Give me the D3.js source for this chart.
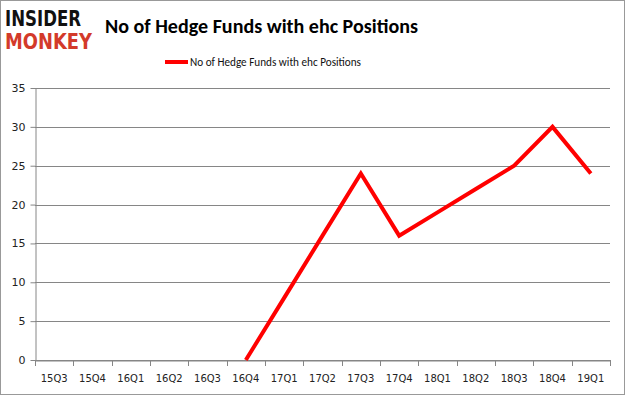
<!DOCTYPE html>
<html><head><meta charset="utf-8">
<script src="https://cdn.jsdelivr.net/npm/d3@7"></script>
<style>body{margin:0;background:#fff}svg{display:block}</style>
</head><body>
<svg id="c" width="625" height="395"></svg>
<script>
const categories = ["15Q3","15Q4","16Q1","16Q2","16Q3","16Q4","17Q1","17Q2","17Q3","17Q4","18Q1","18Q2","18Q3","18Q4","19Q1"];
const values = [null,null,null,null,null,0,8,16,24,16,19,22,25,30,24];
const yTicks = [0,5,10,15,20,25,30,35];
const seriesName = "No of Hedge Funds with ehc Positions";

const svg = d3.select("#c");
const W = 625, H = 395;
const m = {l:35, r:15, t:88, b:35};
svg.append("rect").attr("x",0.5).attr("y",0.5).attr("width",W-1).attr("height",H-1)
  .attr("fill","#fff").attr("stroke","#999");

const x = d3.scaleBand().domain(categories).range([m.l, W-m.r]);
const y = d3.scaleLinear().domain([0,35]).range([H-m.b, m.t]);

// grid
svg.append("g").selectAll("line").data(yTicks).join("line")
  .attr("x1",m.l).attr("x2",W-m.r)
  .attr("y1",d=>Math.round(y(d))+0.5).attr("y2",d=>Math.round(y(d))+0.5)
  .attr("stroke","#868686").attr("stroke-width",1);

// y axis
const ya = svg.append("g").attr("transform",`translate(${m.l+0.5},0)`)
  .call(d3.axisLeft(y).tickValues(yTicks).tickSize(5).tickPadding(5).tickSizeOuter(0));
ya.select(".domain").attr("stroke","#868686");
ya.selectAll(".tick line").attr("stroke","#868686");
ya.selectAll("text").attr("font-family","Verdana, 'DejaVu Sans', sans-serif").attr("font-size","11px").attr("fill","#222");

// x axis
const xa = svg.append("g").attr("transform",`translate(0,${Math.round(y(0))+0.5})`)
  .call(d3.axisBottom(x).tickSize(0).tickPadding(14).tickSizeOuter(0));
xa.select(".domain").attr("stroke","#868686");
xa.selectAll("text").attr("font-family","Verdana, 'DejaVu Sans', sans-serif").attr("font-size","10px").attr("fill","#222");
// boundary tick marks
const bounds = categories.map(c=>x(c)).concat([W-m.r]);
svg.append("g").selectAll("line").data(bounds).join("line")
  .attr("x1",d=>Math.round(d)+0.5).attr("x2",d=>Math.round(d)+0.5)
  .attr("y1",Math.round(y(0))).attr("y2",Math.round(y(0))+6)
  .attr("stroke","#868686");

// line
const line = d3.line().defined(d=>d.v!==null)
  .x(d=>x(d.c)+x.bandwidth()/2).y(d=>y(d.v));
svg.append("path").datum(categories.map((c,i)=>({c,v:values[i]})))
  .attr("d",line).attr("fill","none").attr("stroke","#ff0000").attr("stroke-width",4)
  .attr("stroke-linejoin","miter");

// title
svg.append("text").attr("x",105).attr("y",33).text("No of Hedge Funds with ehc Positions")
  .attr("font-family","Carlito, Calibri, 'Open Sans', sans-serif").attr("font-weight","bold")
  .attr("font-size","21px").attr("textLength",313).attr("lengthAdjust","spacingAndGlyphs").attr("fill","#000");

// legend
svg.append("line").attr("x1",165).attr("x2",188).attr("y1",62).attr("y2",62)
  .attr("stroke","#ff0000").attr("stroke-width",4);
svg.append("text").attr("x",190).attr("y",66).text(seriesName)
  .attr("font-family","Carlito, Calibri, 'Open Sans', sans-serif").attr("font-size","12px")
  .attr("textLength",171).attr("lengthAdjust","spacingAndGlyphs").attr("fill","#111");

// logo
svg.append("text").attr("x",5).attr("y",26).text("INSIDER")
  .attr("font-family","'DejaVu Sans', sans-serif").attr("font-weight","bold").attr("font-size","21px")
  .attr("textLength",76).attr("lengthAdjust","spacingAndGlyphs").attr("fill","#111");
svg.append("text").attr("x",5).attr("y",49).text("MONKEY")
  .attr("font-family","'DejaVu Sans', sans-serif").attr("font-weight","bold").attr("font-size","21px")
  .attr("textLength",87).attr("lengthAdjust","spacingAndGlyphs").attr("fill","#d33a2a");
</script>
</body></html>
